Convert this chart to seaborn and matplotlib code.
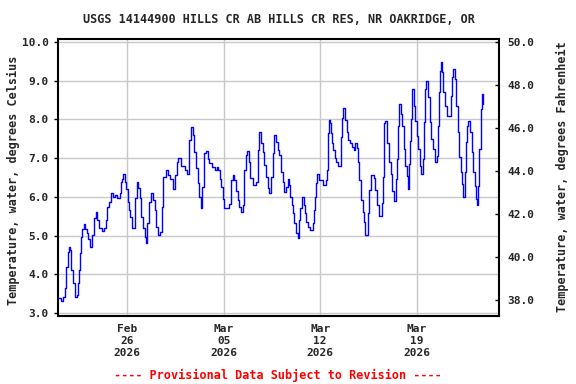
import numpy as np
import pandas as pd
import matplotlib
matplotlib.use("Agg")
import matplotlib.pyplot as plt
import seaborn as sns
from matplotlib.ticker import FixedLocator, FuncFormatter

title = "USGS 14144900 HILLS CR AB HILLS CR RES, NR OAKRIDGE, OR"
footer = "---- Provisional Data Subject to Revision ----"
ylabel_left = "Temperature, water, degrees Celsius"
ylabel_right = "Temperature, water, degrees Fahrenheit"
start = "2026-02-21"
end = "2026-03-25"

# days since 2026-02-21 00:00
days = [0.00, 0.17, 0.34, 0.46, 0.58, 0.70, 0.75, 0.85, 0.94, 1.07, 1.21, 1.33, 1.43, 1.50, 1.57, 1.62, 1.72, 1.84,
        1.96, 2.06, 2.15, 2.30, 2.39, 2.46, 2.59, 2.71, 2.83, 2.97, 3.17, 3.29, 3.43, 3.55, 3.65, 3.80, 3.96, 4.13,
        4.28, 4.45, 4.52, 4.64, 4.71, 4.81, 4.88, 5.05, 5.12, 5.22, 5.36, 5.46, 5.54, 5.58, 5.68, 5.78, 5.90, 6.01,
        6.14, 6.26, 6.33, 6.45, 6.55, 6.70, 6.86, 6.99, 7.10, 7.22, 7.37, 7.51, 7.61, 7.78, 7.95, 8.10, 8.29, 8.48,
        8.62, 8.72, 8.87, 9.16, 9.33, 9.45, 9.52, 9.64, 9.76, 9.88, 10.00, 10.12, 10.22, 10.32, 10.43, 10.56, 10.72,
        10.85, 10.97, 11.16, 11.38, 11.50, 11.62, 11.70, 11.81, 11.93, 12.06, 12.30, 12.42, 12.54, 12.66, 12.78,
        12.90, 13.02, 13.14, 13.26, 13.38, 13.51, 13.62, 13.70, 13.82, 13.94, 14.13, 14.28, 14.35, 14.47, 14.59,
        14.71, 14.83, 14.96, 15.07, 15.20, 15.32, 15.43, 15.56, 15.68, 15.80, 15.92, 16.04, 16.16, 16.28, 16.41,
        16.52, 16.64, 16.77, 16.84, 16.93, 17.03, 17.13, 17.25, 17.37, 17.49, 17.57, 17.66, 17.80, 17.90, 18.00,
        18.09, 18.29, 18.46, 18.53, 18.62, 18.70, 18.77, 18.94, 19.23, 19.42, 19.49, 19.54, 19.59, 19.67, 19.74,
        19.78, 19.86, 19.96, 20.07, 20.14, 20.32, 20.51, 20.58, 20.68, 20.83, 20.92, 21.04, 21.19, 21.28, 21.43,
        21.55, 21.67, 21.77, 21.84, 21.96, 22.08, 22.15, 22.25, 22.39, 22.49, 22.57, 22.68, 22.80, 22.88, 23.00,
        23.12, 23.24, 23.41, 23.46, 23.55, 23.65, 23.70, 23.84, 24.01, 24.13, 24.25, 24.38, 24.49, 24.57, 24.62,
        24.69, 24.74, 24.86, 24.96, 25.05, 25.17, 25.27, 25.36, 25.46, 25.54, 25.58, 25.65, 25.70, 25.83, 25.92,
        26.02, 26.12, 26.23, 26.33, 26.48, 26.55, 26.59, 26.70, 26.84, 26.96, 27.08, 27.20, 27.35, 27.46, 27.56,
        27.64, 27.71, 27.75, 27.83, 27.95, 28.05, 28.21, 28.43, 28.53, 28.60, 28.67, 28.80, 28.89, 29.01, 29.11,
        29.20, 29.30, 29.38, 29.49, 29.59, 29.69, 29.76, 29.88, 30.00, 30.12, 30.22, 30.29, 30.36, 30.46, 30.56,
        30.65, 30.75, 30.83]
temp_c = [3.38, 3.31, 3.42, 3.64, 4.20, 4.58, 4.70, 4.63, 4.11, 3.77, 3.42, 3.46, 3.77, 4.11, 4.54, 4.95, 5.17, 5.29,
          5.17, 5.06, 4.90, 4.70, 4.70, 5.01, 5.45, 5.60, 5.40, 5.19, 5.12, 5.19, 5.40, 5.75, 5.87, 6.09, 6.00, 6.05,
          5.96, 6.09, 6.39, 6.45, 6.59, 6.39, 6.19, 5.87, 5.66, 5.49, 5.19, 5.19, 5.57, 5.98, 6.39, 6.22, 5.96, 5.49,
          5.19, 4.97, 4.82, 5.32, 5.87, 6.09, 5.92, 5.66, 5.23, 5.01, 5.10, 5.75, 6.52, 6.69, 6.56, 6.46, 6.19, 6.56,
          6.91, 7.00, 6.80, 6.69, 6.59, 7.00, 7.47, 7.80, 7.60, 7.17, 6.74, 6.35, 6.00, 5.70, 6.26, 7.12, 7.19,
          6.97, 6.88, 6.78, 6.69, 6.78, 6.69, 6.45, 6.26, 5.94, 5.70, 5.70, 5.82, 6.43, 6.56, 6.43,
          6.16, 5.92, 5.73, 5.60, 5.79, 6.69, 7.08, 7.19, 6.91, 6.48, 6.31, 6.31, 6.39, 7.21, 7.68,
          7.38, 7.17, 6.82, 6.52, 6.22, 6.09, 6.52, 7.12, 7.60, 7.42, 7.21, 7.08, 6.65, 6.39, 6.13,
          6.26, 6.45, 6.31, 5.99, 5.79, 5.57, 5.32, 5.06, 4.93, 5.40, 5.70, 5.99, 5.79, 5.57, 5.36,
          5.23, 5.14, 5.32, 5.66, 6.00, 6.35, 6.58, 6.43, 6.31, 6.43, 6.69, 7.12, 7.64, 7.99, 7.90,
          7.64, 7.38, 7.21, 7.00, 6.91, 6.80, 7.55, 8.03, 8.29, 7.99, 7.68, 7.47, 7.38, 7.30, 7.21,
          7.38, 7.25, 6.91, 6.43, 5.92, 5.62, 5.36, 5.01, 5.01, 5.57, 6.18, 6.56, 6.56, 6.48, 6.18,
          5.79, 5.50, 5.50, 5.83, 6.52, 7.90, 7.97, 7.38, 6.90, 6.59, 6.16, 5.90, 6.46, 6.98, 7.84,
          8.35, 8.40, 8.14, 7.84, 7.24, 6.80, 6.55, 6.20, 6.85, 7.45, 8.01, 8.57, 8.79, 8.35, 7.97,
          7.58, 7.24, 6.80, 6.59, 6.98, 7.93, 8.79, 9.00, 8.57, 7.93, 7.49, 7.24, 6.89, 7.06, 7.84,
          8.70, 9.26, 9.48, 9.22, 8.70, 8.35, 8.08, 8.08, 8.61, 9.09, 9.30, 9.04, 8.35, 7.67, 7.02,
          6.63, 6.33, 5.99, 6.63, 7.41, 7.84, 7.97, 7.67, 7.15, 6.63, 6.29, 5.94, 5.79, 6.29, 7.24,
          8.27, 8.66, 8.40]

c_ticks = [3, 4, 5, 6, 7, 8, 9, 10]
f_ticks = [38, 40, 42, 44, 46, 48, 50]
date_ticks = ["2026-02-26", "2026-03-05", "2026-03-12", "2026-03-19"]
date_labels = ["Feb\n26\n2026", "Mar\n05\n2026", "Mar\n12\n2026", "Mar\n19\n2026"]

df = pd.DataFrame({"time": pd.Timestamp(start) + pd.to_timedelta(days, unit="D"),
                   "temp": temp_c})

sns.set_theme(style="white")
plt.rcParams['font.family'] = ['DejaVu Sans Mono']
plt.rcParams['font.weight'] = 'bold'

fig = plt.figure(figsize=(5.76, 3.84), dpi=100)
ax = fig.add_axes([0.1012, 0.1779, 0.7656, 0.7198])

sns.lineplot(data=df, x="time", y="temp", ax=ax, color="#0000ff", linewidth=1.0,
             estimator=None, drawstyle="steps-post", zorder=3)

ax.set_xlim(pd.Timestamp(start), pd.Timestamp(end))
ymin, ymax = 2.93, 10.07
ax.set_ylim(ymin, ymax)
ax.set_xticks(pd.to_datetime(date_ticks))
ax.set_xticklabels(date_labels, fontsize=8, fontweight="bold", linespacing=1.25)
ax.yaxis.set_major_locator(FixedLocator(c_ticks))
ax.yaxis.set_major_formatter(FuncFormatter(lambda v, p: f"{v:.1f}"))
ax.tick_params(axis="y", labelsize=8, length=3, direction="out", width=1, color="black", pad=4)
ax.tick_params(axis="x", labelsize=8, length=3, direction="out", width=1, color="black", pad=3)
for t in ax.get_yticklabels():
    t.set_fontweight("bold")
ax.grid(True, color="#c8c8c8", linewidth=1.0, zorder=0)
ax.set_xlabel("")
ax.set_ylabel("")
for s in ax.spines.values():
    s.set_color("black")
    s.set_linewidth(1.5)

ax2 = ax.twinx()
ax2.set_ylim(ymin * 1.8 + 32, ymax * 1.8 + 32)
ax2.yaxis.set_major_locator(FixedLocator(f_ticks))
ax2.yaxis.set_major_formatter(FuncFormatter(lambda v, p: f"{v:.1f}"))
ax2.tick_params(axis="y", labelsize=8, length=3, direction="in", width=1, color="black", pad=6)
for t in ax2.get_yticklabels():
    t.set_fontweight("bold")
ax2.grid(False)
for s in ax2.spines.values():
    s.set_visible(False)

fig.text(0.4839, 0.950, title, ha="center", va="center", fontsize=8.5, fontweight="bold")
fig.text(0.024, 0.53, ylabel_left, rotation=90, ha="center", va="center", fontsize=8.5, fontweight="bold")
fig.text(0.976, 0.539, ylabel_right, rotation=90, ha="center", va="center", fontsize=8.5, fontweight="bold")
fig.text(0.4818, 0.023, footer, ha="center", va="center", fontsize=8.5, fontweight="bold", color="#ff0000")

fig.savefig("out.png", dpi=100)
